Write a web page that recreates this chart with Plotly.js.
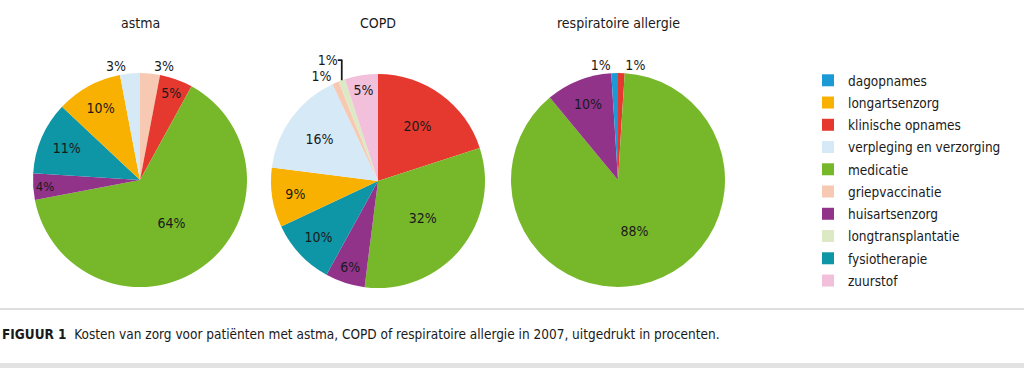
<!DOCTYPE html>
<html>
<head>
<meta charset="utf-8">
<script src="https://cdn.plot.ly/plotly-3.0.1.min.js"></script>
<style>html,body{margin:0;padding:0;background:#fff;}#chart{width:1024px;height:368px;}</style>
</head>
<body>
<div id="chart"></div>
<script>
// Legend categories and colours
var categories = ['dagopnames','longartsenzorg','klinische opnames','verpleging en verzorging','medicatie','griepvaccinatie','huisartsenzorg','longtransplantatie','fysiotherapie','zuurstof'];
var categoryColors = ['#1b9ad6','#f8b100','#e5392f','#d5e9f7','#77b82a','#f7c9b2','#92338a','#dde9c4','#0e95a6','#f2c0da'];

// Pie titles
var pieTitles = ['astma','COPD','respiratoire allergie'];

// astma (clockwise from 12 o'clock)
var astmaLabels = ['griepvaccinatie','klinische opnames','medicatie','huisartsenzorg','fysiotherapie','longartsenzorg','verpleging en verzorging'];
var astmaValues = [3,5,64,4,11,10,3];

// COPD
var copdLabels = ['klinische opnames','medicatie','huisartsenzorg','fysiotherapie','longartsenzorg','verpleging en verzorging','griepvaccinatie','longtransplantatie','zuurstof'];
var copdValues = [20,32,6,10,9,16,1,1,5];

// respiratoire allergie
var raLabels = ['klinische opnames','medicatie','huisartsenzorg','dagopnames'];
var raValues = [1,88,10,1];

var captionBold = 'FIGUUR 1';
var captionText = 'Kosten van zorg voor patiënten met astma, COPD of respiratoire allergie in 2007, uitgedrukt in procenten.';

var FONT = '"DejaVu Sans Condensed", "Liberation Sans Narrow", sans-serif';
var W = 1024, H = 368;

function colorFor(lbl){ return categoryColors[categories.indexOf(lbl)]; }

function pieTrace(labels, values, cx, cy, r){
  return {
    type: 'pie',
    labels: labels,
    values: values,
    sort: false,
    direction: 'clockwise',
    rotation: 0,
    showlegend: false,
    hoverinfo: 'label+value',
    texttemplate: '%{value}%',
    textposition: values.map(function(v){ return v <= 3 ? 'outside' : 'inside'; }),
    insidetextorientation: 'horizontal',
    textfont: {family: FONT, size: 14, color: '#1a1a1a'},
    insidetextfont: {family: FONT, size: 14, color: '#1a1a1a'},
    outsidetextfont: {family: FONT, size: 14, color: '#1a1a1a'},
    marker: {colors: labels.map(colorFor), line: {width: 0}},
    domain: {
      x: [(cx - r) / W, (cx + r) / W],
      y: [(H - cy - r) / H, (H - cy + r) / H]
    }
  };
}

var centers = [[140,180],[378,181],[618,180]];
var R = 107;

var data = [
  pieTrace(astmaLabels, astmaValues, centers[0][0], centers[0][1], R),
  pieTrace(copdLabels, copdValues, centers[1][0], centers[1][1], R),
  pieTrace(raLabels, raValues, centers[2][0], centers[2][1], R)
];

// legend entries (dummy scatter traces, one per category)
categories.forEach(function(c, i){
  data.push({
    type: 'scatter', mode: 'markers', x: [null], y: [null],
    name: c, legendgroup: 'g' + i, showlegend: true, hoverinfo: 'skip',
    marker: {symbol: 'square', size: 12, color: categoryColors[i]}
  });
});

var annotations = pieTitles.map(function(t, i){
  return {
    text: t, xref: 'paper', yref: 'paper',
    x: centers[i][0] / W, y: (H - 23) / H,
    xanchor: 'center', yanchor: 'middle', showarrow: false,
    font: {family: FONT, size: 14, color: '#1a1a1a'}
  };
});
annotations.push({
  text: '<b>' + captionBold + '</b>  ' + captionText,
  xref: 'paper', yref: 'paper', x: 0, y: (H - 334) / H,
  xanchor: 'left', yanchor: 'middle', showarrow: false,
  font: {family: FONT, size: 13.5, color: '#1a1a1a'}
});

var layout = {
  width: W, height: H,
  margin: {l: 0, r: 0, t: 0, b: 0},
  paper_bgcolor: '#fff', plot_bgcolor: '#fff',
  xaxis: {visible: false, domain: [0.99, 1]},
  yaxis: {visible: false, domain: [0.99, 1]},
  showlegend: true,
  legend: {
    x: 808 / W, y: (H - 65) / H, xanchor: 'left', yanchor: 'top',
    font: {family: FONT, size: 13.5, color: '#1a1a1a'},
    bgcolor: 'rgba(0,0,0,0)', borderwidth: 0, tracegroupgap: 1.7
  },
  shapes: [
    {type: 'line', xref: 'paper', yref: 'paper', x0: 0, x1: 1, y0: (H - 309) / H, y1: (H - 309) / H, line: {color: '#bdbdbd', width: 1}},
    {type: 'rect', xref: 'paper', yref: 'paper', x0: 0, x1: 1, y0: 0, y1: (H - 363) / H, fillcolor: '#e2e2e2', line: {width: 0}}
  ],
  annotations: annotations
};

Plotly.newPlot('chart', data, layout, {displayModeBar: false, staticPlot: true});
</script>
</body>
</html>
